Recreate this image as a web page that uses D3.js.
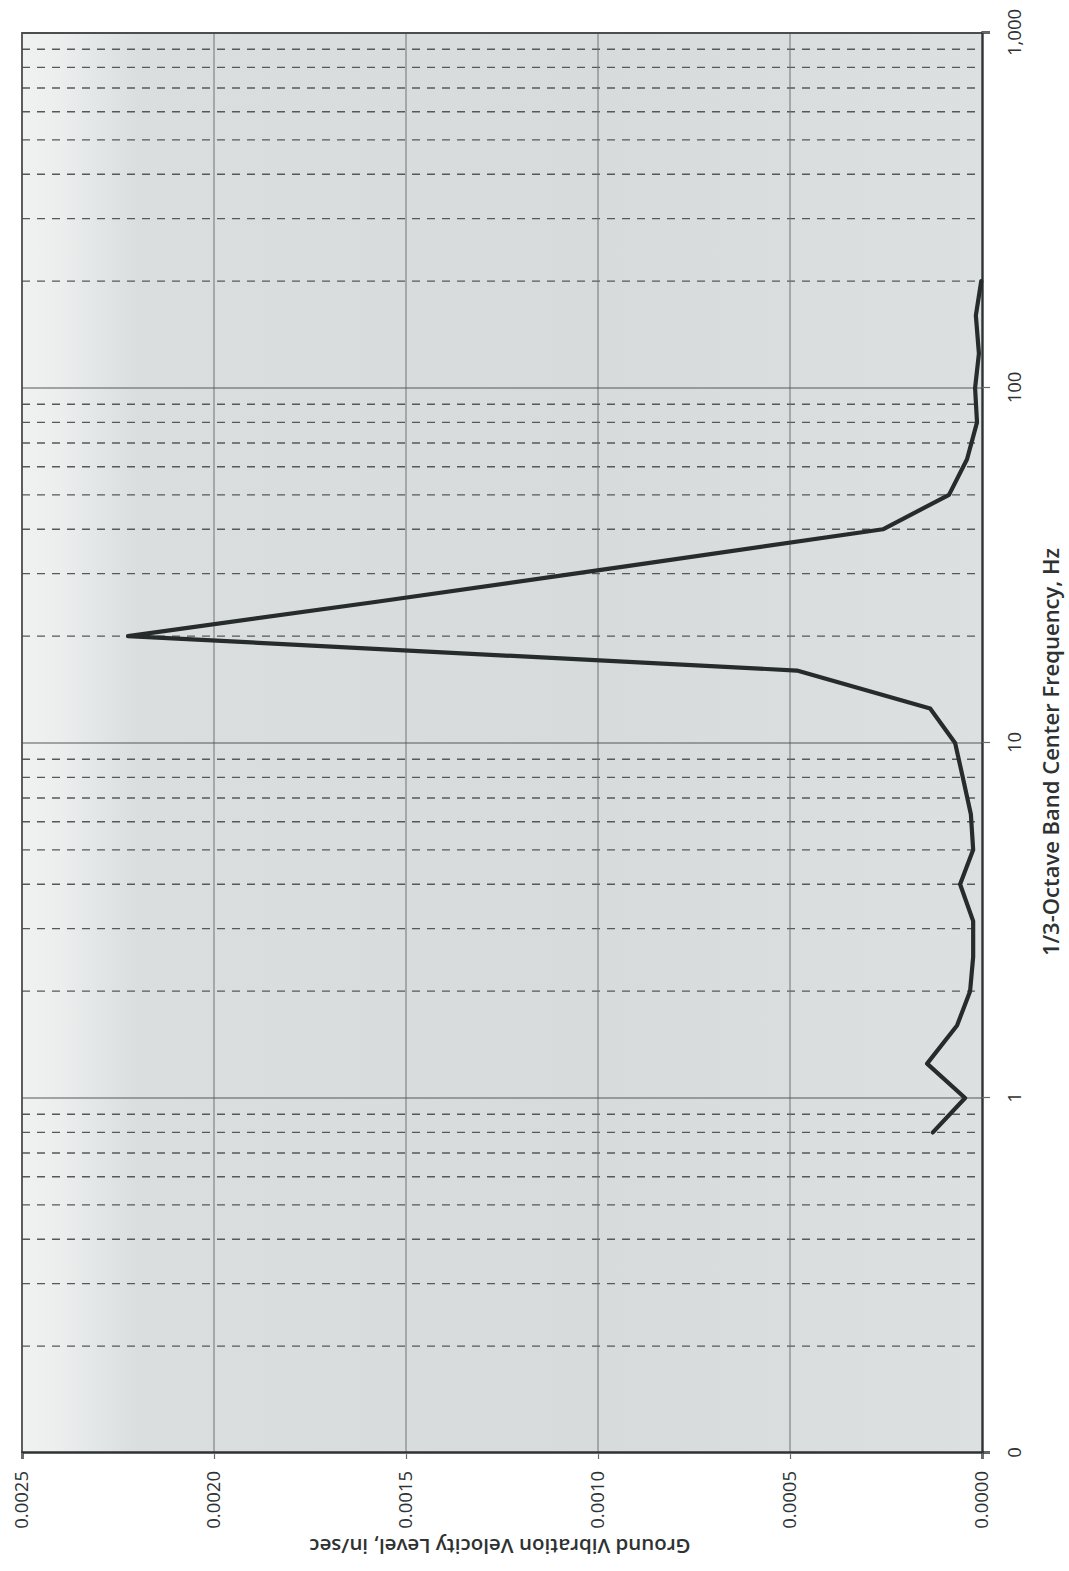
<!DOCTYPE html>
<html>
<head>
<meta charset="utf-8">
<script src="https://cdn.jsdelivr.net/npm/d3@7"></script>
<style>
  body { margin: 0; background: #fff; }
  svg { display: block; }
</style>
</head>
<body>
<div id="chart"></div>
<script>
// 1/3-octave band centre frequencies (Hz) and measured velocity (in/sec)
const frequencies = [0.8, 1, 1.25, 1.6, 2, 2.5, 3.15, 4, 5, 6.3, 8, 10, 12.5, 16, 20, 25, 31.5, 40, 50, 63, 80, 100, 125, 160, 200];
const velocities = [0.000128, 0.000044, 0.000143, 0.000065, 0.000031, 0.000023, 0.000023, 0.000057, 0.000023, 0.000029, 0.000050, 0.000070, 0.000135, 0.000482, 0.002224, 0.001576, 0.000924, 0.000258, 0.000086, 0.000039, 0.000013, 0.000018, 0.000008, 0.000016, 0.000002];

// axis ticks
const freqTicks = [0.1, 1, 10, 100, 1000];
const velTicks = [0, 0.0005, 0.0010, 0.0015, 0.0020, 0.0025];

const svgWidth = 1069;
const svgHeight = 1571;

// the chart is drawn the usual way, then turned a quarter turn anticlockwise
const width = 1420;   // frequency axis length
const height = 960;   // velocity axis length
const originX = 22;   // screen x of the top edge of the unrotated plot
const originY = 1453; // screen y of the left edge of the unrotated plot

const svg = d3.select('#chart')
    .append('svg')
    .attr('width', svgWidth)
    .attr('height', svgHeight);

// scanned grey background
const grad = svg.append('defs').append('linearGradient')
    .attr('id', 'bg')
    .attr('x1', '0%').attr('x2', '100%')
    .attr('y1', '0%').attr('y2', '0%');
grad.append('stop').attr('offset', '0%').attr('stop-color', '#f0f2f2');
grad.append('stop').attr('offset', '4%').attr('stop-color', '#eceeee');
grad.append('stop').attr('offset', '12%').attr('stop-color', '#dadede');
grad.append('stop').attr('offset', '60%').attr('stop-color', '#d7dbdb');
grad.append('stop').attr('offset', '100%').attr('stop-color', '#dde0e0');

svg.append('rect')
    .attr('x', originX)
    .attr('y', originY - width)
    .attr('width', height)
    .attr('height', width)
    .attr('fill', 'url(#bg)');

const g = svg.append('g')
    .attr('transform', `translate(${originX},${originY}) rotate(-90)`);

// scales
const xScale = d3.scaleLog()
    .domain([0.1, 1000])
    .range([0, width]);

const yScale = d3.scaleLinear()
    .domain([0, 0.0025])
    .range([height, 0]);

// minor frequency gridlines (dashed)
const minorTicks = [];
[0.1, 1, 10, 100].forEach(decade => {
    for (let m = 2; m <= 9; m++) minorTicks.push(decade * m);
});

g.append('g')
    .selectAll('line')
    .data(minorTicks)
    .enter()
    .append('line')
    .attr('x1', d => xScale(d))
    .attr('x2', d => xScale(d))
    .attr('y1', 0)
    .attr('y2', height)
    .attr('stroke', '#555959')
    .attr('stroke-width', 1.3)
    .attr('stroke-dasharray', '8,7');

// velocity gridlines
g.append('g')
    .selectAll('line')
    .data(velTicks.slice(1, -1))
    .enter()
    .append('line')
    .attr('x1', 0)
    .attr('x2', width)
    .attr('y1', d => yScale(d))
    .attr('y2', d => yScale(d))
    .attr('stroke', '#6f7373')
    .attr('stroke-width', 1);

// major frequency gridlines
g.append('g')
    .selectAll('line')
    .data(freqTicks.slice(1, -1))
    .enter()
    .append('line')
    .attr('x1', d => xScale(d))
    .attr('x2', d => xScale(d))
    .attr('y1', 0)
    .attr('y2', height)
    .attr('stroke', '#555959')
    .attr('stroke-width', 1.2);

// plot border (top and right of the unrotated chart)
g.append('path')
    .attr('d', `M0,0H${width}V${height}`)
    .attr('fill', 'none')
    .attr('stroke', '#4a4e4e')
    .attr('stroke-width', 1.8);

// axes
const xAxis = g.append('g')
    .attr('transform', `translate(0,${height})`)
    .call(d3.axisBottom(xScale)
        .tickValues(freqTicks)
        .tickSize(8)
        .tickPadding(18)
        .tickFormat(d => d < 1 ? '0' : d3.format(',')(d)));

const yAxis = g.append('g')
    .call(d3.axisLeft(yScale)
        .tickValues(velTicks)
        .tickSize(6)
        .tickPadding(12)
        .tickFormat(d3.format('.4f')));

[xAxis, yAxis].forEach(ax => {
    ax.select('.domain')
        .attr('stroke', '#2e3232')
        .attr('stroke-width', 2.4);
    ax.selectAll('.tick line')
        .attr('stroke', '#666a6a')
        .attr('stroke-width', 1.2);
    ax.selectAll('text')
        .style('font-family', '"Open Sans", sans-serif')
        .style('font-size', '18.5px')
        .style('fill', '#2e3232');
});

// data line
const line = d3.line()
    .x(d => xScale(d[0]))
    .y(d => yScale(d[1]));

g.append('path')
    .datum(frequencies.map((f, i) => [f, velocities[i]]))
    .attr('d', line)
    .attr('fill', 'none')
    .attr('stroke', '#262b2b')
    .attr('stroke-width', 4.2)
    .attr('stroke-linejoin', 'round')
    .attr('stroke-linecap', 'round');

// axis titles
g.append('text')
    .attr('x', width / 2 - 9)
    .attr('y', height + 77)
    .attr('text-anchor', 'middle')
    .style('font-family', '"Open Sans", sans-serif')
    .style('font-weight', '600')
    .style('font-size', '22px')
    .style('fill', '#2e3232')
    .text('1/3-Octave Band Center Frequency, Hz');

g.append('text')
    .attr('transform', 'rotate(-90)')
    .attr('x', -height / 2 + 2)
    .attr('y', -86)
    .attr('text-anchor', 'middle')
    .style('font-family', '"Open Sans", sans-serif')
    .style('font-weight', '600')
    .style('font-size', '20.5px')
    .style('fill', '#2e3232')
    .text('Ground Vibration Velocity Level, in/sec');
</script>
</body>
</html>
